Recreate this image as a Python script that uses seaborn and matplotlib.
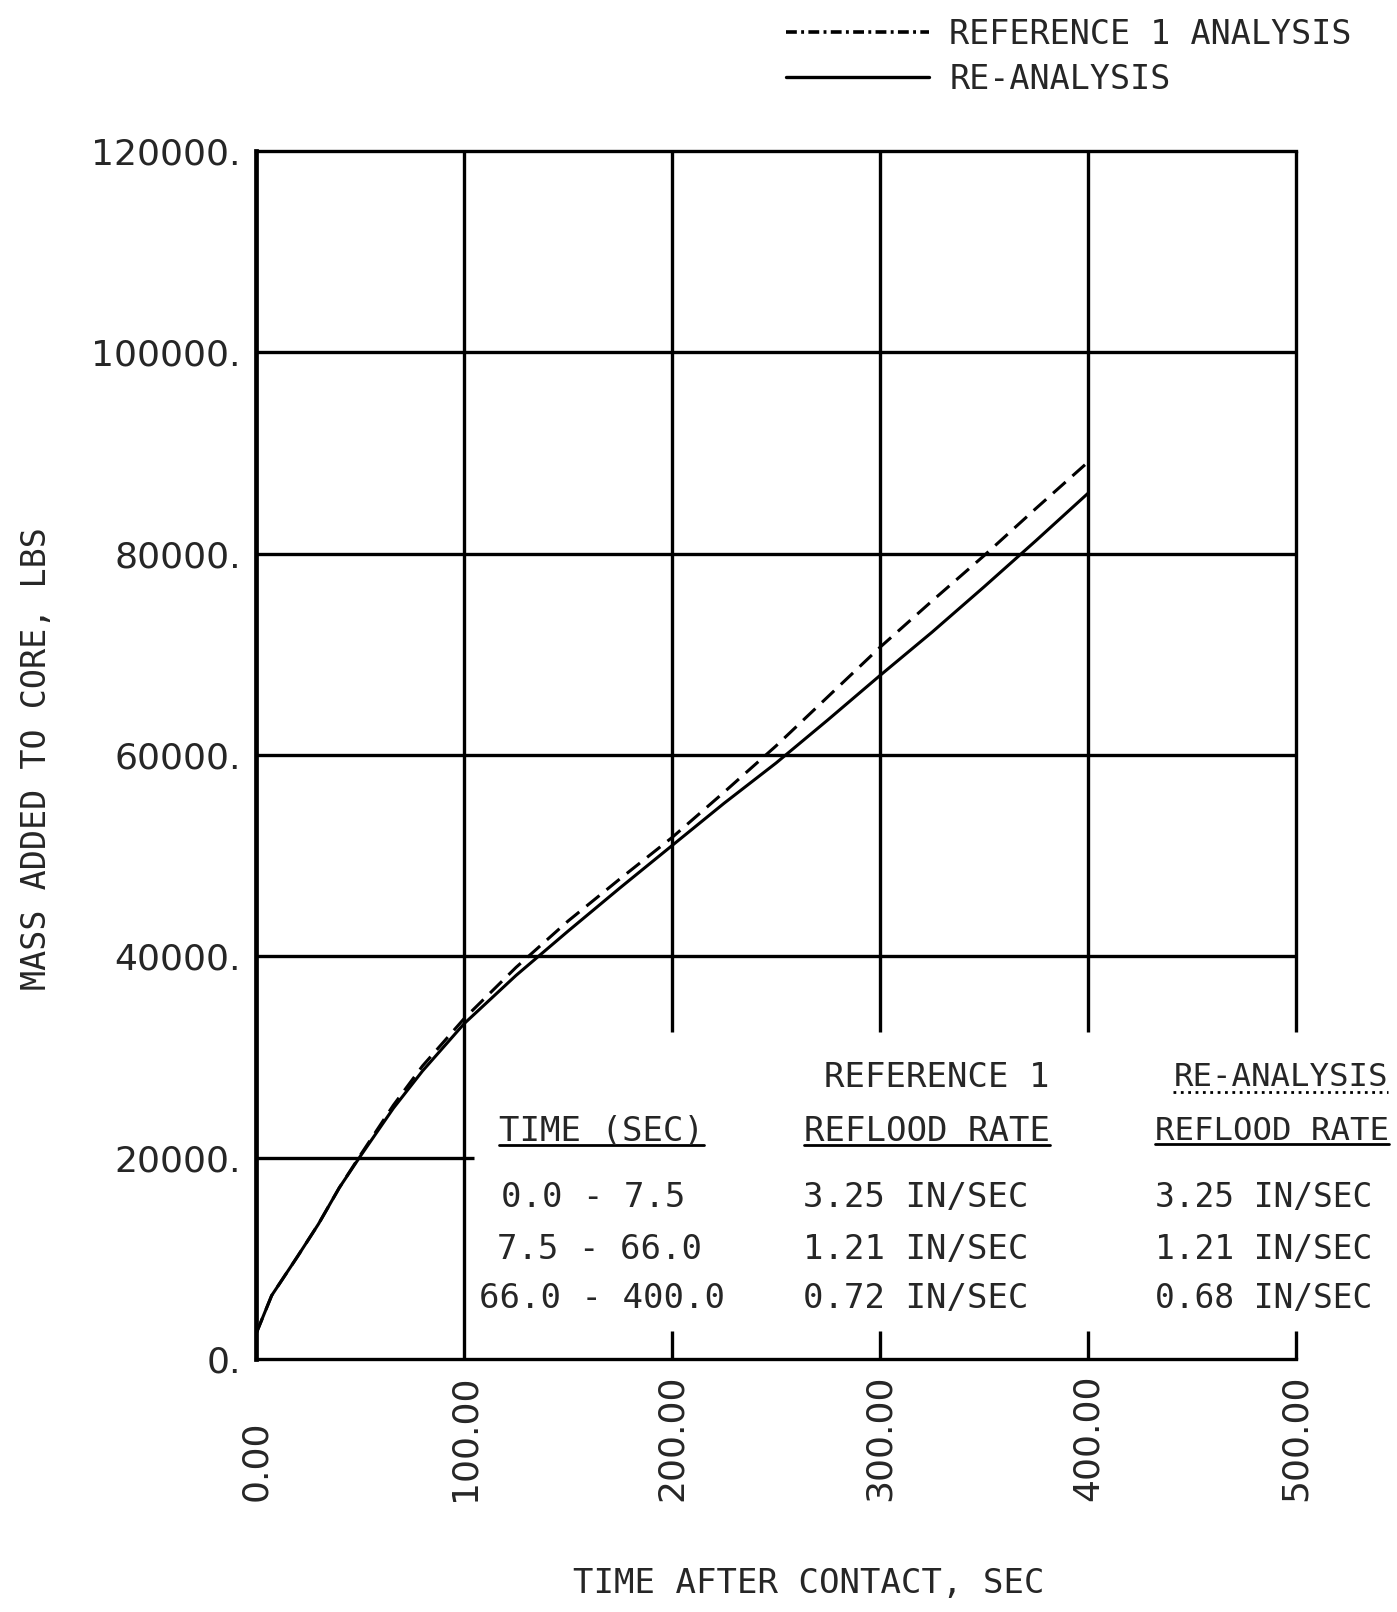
import pandas as pd
import seaborn as sns
import matplotlib.pyplot as plt
from matplotlib.lines import Line2D

# curve values
time_ref1 = [0, 7.5, 20, 30, 40, 50, 66, 80, 100, 125, 150, 175, 200, 225, 250, 275, 300, 325, 350, 375, 400]
mass_ref1 = [2500, 6300, 10200, 13400, 17000, 20200, 25200, 29100, 33800, 38900, 43500, 47700, 51800,
             56300, 60900, 65800, 70700, 75300, 79800, 84500, 89100]

time_reanalysis = [0, 7.5, 20, 30, 40, 50, 66, 80, 100, 125, 150, 175, 200, 225, 250, 275, 300, 325, 350, 375, 400]
mass_reanalysis = [2500, 6300, 10200, 13400, 17000, 20100, 24900, 28600, 33300, 38100, 42500, 46800, 51000,
                   55200, 59200, 63500, 67900, 72200, 76700, 81300, 86000]

x_ticks = [0, 100, 200, 300, 400, 500]
y_ticks = [0, 20000, 40000, 60000, 80000, 100000, 120000]

col_headers = ['TIME (SEC)', 'REFLOOD RATE', 'REFLOOD RATE']
top_headers = ['REFERENCE 1', 'RE-ANALYSIS']
time_ranges = ['0.0 - 7.5', '7.5 - 66.0', '66.0 - 400.0']
rate_ref1 = ['3.25 IN/SEC', '1.21 IN/SEC', '0.72 IN/SEC']
rate_reanalysis = ['3.25 IN/SEC', '1.21 IN/SEC', '0.68 IN/SEC']

sns.set_style('white')
plt.rcParams['font.family'] = ['DejaVu Sans Mono', 'DejaVu Sans']

fig = plt.figure(figsize=(13.97, 16.12), dpi=100)
ax = fig.add_axes([0.1833, 0.157, 0.7444, 0.7493])

df_ref = pd.DataFrame({'t': time_ref1, 'm': mass_ref1})
df_re = pd.DataFrame({'t': time_reanalysis, 'm': mass_reanalysis})
sns.lineplot(data=df_ref, x='t', y='m', color='black', linewidth=2.2, linestyle=(0, (5.5, 3)), ax=ax)
sns.lineplot(data=df_re, x='t', y='m', color='black', linewidth=2.2, ax=ax)

ax.set_xlim(0, 500)
ax.set_ylim(0, 120000)

# grid, broken where the table sits
gkw = dict(color='black', linewidth=2.4, zorder=1, clip_on=False)
ax.vlines(100, 0, 120000, **gkw)
for x in [200, 300, 400, 500]:
    ax.vlines(x, 32500, 120000, **gkw)
    ax.vlines(x, 0, 2800, **gkw)
for y in [40000, 60000, 80000, 100000]:
    ax.hlines(y, 0, 500, **gkw)
ax.hlines(20000, 0, 105, **gkw)

ax.spines['right'].set_visible(False)
ax.spines['left'].set_linewidth(3.4)
for s in ['top', 'bottom']:
    ax.spines[s].set_linewidth(2.4)
for s in ax.spines.values():
    s.set_color('black')

ax.set_yticks(y_ticks)
ax.set_yticklabels([f'{v}.' for v in y_ticks], family=['DejaVu Sans'], fontsize=26)
ax.set_xticks(x_ticks)
ax.set_xticklabels([f'{v}.00' for v in x_ticks], family=['DejaVu Sans'], fontsize=26, rotation=90)
ax.tick_params(axis='y', length=0, pad=11)
ax.tick_params(axis='x', length=0, pad=102)
for lab in ax.get_xticklabels():
    lab.set_va('bottom')

ax.set_ylabel('MASS ADDED TO CORE, LBS', fontsize=24)
ax.yaxis.set_label_coords(-0.195, 0.497)
ax.set_xlabel('TIME AFTER CONTACT, SEC', fontsize=24.5)
ax.xaxis.set_label_coords(0.531, -0.172)

# legend at the top right
handles = [Line2D([], [], color='black', linewidth=2.6, linestyle=(0, (3, 1.2, 0.8, 1.2))),
           Line2D([], [], color='black', linewidth=2.4)]
fig.legend(handles, ['REFERENCE 1 ANALYSIS', 'RE-ANALYSIS'], loc='upper left',
           bbox_to_anchor=(786 / 1397, 1 - 18 / 1612), frameon=False, fontsize=24,
           handlelength=4.3, handletextpad=0.6, borderpad=0, borderaxespad=0, labelspacing=0.35)

# reflood rate table
tkw = dict(va='center', clip_on=False)
t1 = ax.text(117, 22600, col_headers[0], ha='left', fontsize=24.5, **tkw)
t2 = ax.text(263.5, 22600, col_headers[1], ha='left', fontsize=24.5, **tkw)
t3 = ax.text(432, 22600, col_headers[2], ha='left', fontsize=23.3, **tkw)
ax.text(273, 28000, top_headers[0], ha='left', fontsize=24.5, **tkw)
t4 = ax.text(441, 28000, top_headers[1], ha='left', fontsize=23.3, **tkw)
row_y = [16000, 10900, 6050]
row_x = [117.6, 115.6, 107.2]
for i in range(3):
    ax.text(row_x[i], row_y[i], time_ranges[i], ha='left', fontsize=24.5, **tkw)
    ax.text(263, row_y[i], rate_ref1[i], ha='left', fontsize=24.5, **tkw)
    ax.text(432, row_y[i], rate_reanalysis[i], ha='left', fontsize=23.7, **tkw)

fig.canvas.draw()
inv = ax.transData.inverted()
for t in [t1, t2, t3]:
    bb = t.get_window_extent()
    (x0, y0), (x1, _) = inv.transform([(bb.x0, bb.y0 + 3), (bb.x1, bb.y0 + 3)])
    ax.plot([x0, x1], [y0, y0], color='black', linewidth=2, clip_on=False)
bb = t4.get_window_extent()
(x0, y0), (x1, _) = inv.transform([(bb.x0, bb.y0 + 1), (bb.x1, bb.y0 + 1)])
ax.plot([x0, x1], [y0, y0], color='black', linewidth=2, linestyle=':', clip_on=False)

fig.savefig('out.png', dpi=100)
